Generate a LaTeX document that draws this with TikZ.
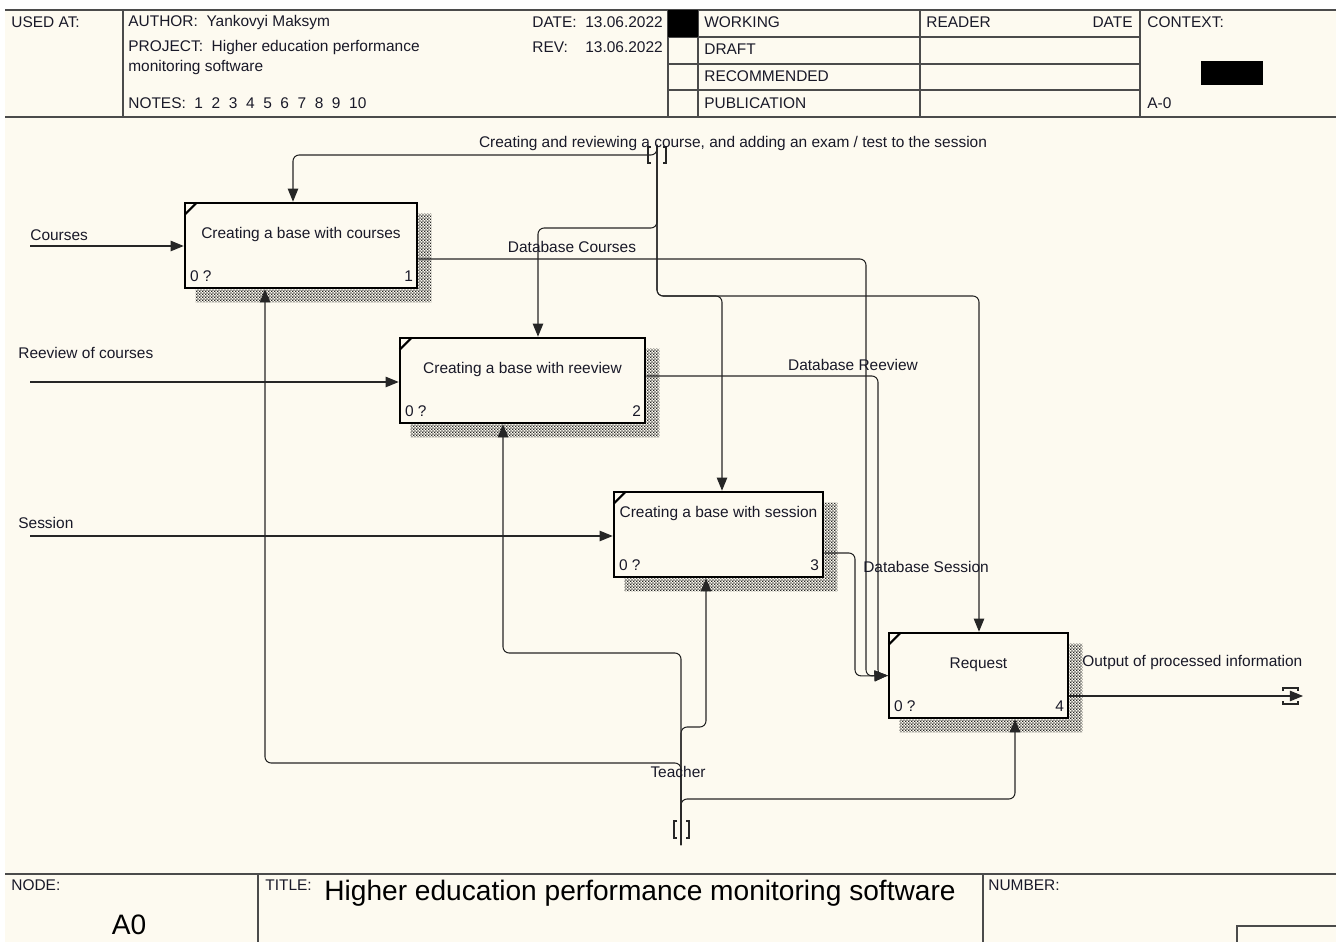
\documentclass[tikz,border=0pt]{standalone}
\usepackage{fontspec}
\setmainfont{Liberation Sans}
\usetikzlibrary{arrows.meta,calc,patterns.meta,positioning}
\definecolor{paper}{RGB}{253,250,240}
\definecolor{ink}{RGB}{25,25,40}
\definecolor{rulec}{RGB}{75,75,75}

\tikzdeclarepattern{
  name=idefshade,
  type=uncolored,
  bottom left={(0pt,0pt)},
  top right={(1.6pt,1.6pt)},
  tile size={(1.6pt,1.6pt)},
  code={
    \fill (0pt,0pt) rectangle (0.8pt,0.8pt);
    \fill (0.8pt,0.8pt) rectangle (1.6pt,1.6pt);
  }
}

\begin{document}
\begin{tikzpicture}[x=0.02cm, y=-0.02cm,
    fnbox/.style={rectangle, draw=black, line width=1.5pt, fill=paper, minimum height=1.7cm, inner sep=0pt},
    flow/.style={draw=black!85, line width=0.6pt, rounded corners=3.5pt},
    arr/.style={-{Triangle[length=7.5pt,width=6pt]}},
    lbl/.style={font=\fontsize{8.8}{10}\selectfont, text=ink, inner sep=0pt, yshift=-0.8pt},
    big/.style={font=\fontsize{16}{18}\selectfont, text=black, inner sep=0pt},
    hdr/.style={draw=rulec, line width=0.9pt},
    shade/.style={pattern=idefshade, pattern color=black!85},
    tunnel/.style={draw=black!85, line width=0.7pt}
]
\useasboundingbox (0,0) rectangle (1336,942);
\fill[white] (0,0) rectangle (1336,942);
\fill[paper] (5,10) rectangle (1336,942);

% header
\draw[hdr] (5,10) -- (1336,10);
\draw[hdr] (5,117) -- (1336,117);
\draw[hdr] (123,10) -- (123,117);
\draw[hdr] (668,10) -- (668,117);
\draw[hdr] (698,10) -- (698,117);
\draw[hdr] (920,10) -- (920,117);
\draw[hdr] (1140,10) -- (1140,117);
\foreach \y in {37,64,90} \draw[hdr] (668,\y) -- (1140,\y);
\fill[black] (668,10) rectangle (698,37);
\fill[black] (1201,61) rectangle (1263,85);

\node[lbl, anchor=west] (usedat) at (11,21) {USED AT:};
\node[lbl, anchor=west] (author) at (128,21) {AUTHOR:\ \ Yankovyi Maksym};
\node[lbl, anchor=west] (project) at (128,46) {PROJECT:\ \ Higher education performance};
\node[lbl, anchor=west] (project2) at (128,66) {monitoring software};
\node[lbl, anchor=west] (notes) at (128,102) {NOTES:\ \ 1\ \ 2\ \ 3\ \ 4\ \ 5\ \ 6\ \ 7\ \ 8\ \ 9\ \ 10};
\node[lbl, anchor=west] (date) at (532,21) {DATE:};
\node[lbl, anchor=west] (datev) at (585,21) {13.06.2022};
\node[lbl, anchor=west] (rev) at (532,46) {REV:};
\node[lbl, anchor=west] (revv) at (585,46) {13.06.2022};
\node[lbl, anchor=west] (working) at (704,21) {WORKING};
\node[lbl, anchor=west] (draft) at (704,48) {DRAFT};
\node[lbl, anchor=west] (recommended) at (704,75) {RECOMMENDED};
\node[lbl, anchor=west] (publication) at (704,102) {PUBLICATION};
\node[lbl, anchor=west] (reader) at (926,21) {READER};
\node[lbl, anchor=east] (readerdate) at (1133,21) {DATE};
\node[lbl, anchor=west] (context) at (1147,21) {CONTEXT:};
\node[lbl, anchor=west] (ctxname) at (1147,102) {A-0};

% footer
\draw[hdr] (5,874) -- (1336,874);
\draw[hdr] (258,874) -- (258,942);
\draw[hdr] (983,874) -- (983,942);
\draw[hdr] (1237,942) -- (1237,926) -- (1336,926);
\node[lbl, anchor=west] (nodelbl) at (11,884) {NODE:};
\node[big] (nodeid) at (129,925) {A0};
\node[lbl, anchor=west] (titlelbl) at (265,884) {TITLE:};
\node[big, anchor=west] (title) at (324,893) {Higher education performance monitoring software};
\node[lbl, anchor=west] (numberlbl) at (988,884) {NUMBER:};

% activities
\node[fnbox, minimum width=4.64cm] (b1) at (301,245.5) {};
\node[fnbox, minimum width=4.9cm] (b2) at (522.5,380.5) {};
\node[fnbox, minimum width=4.18cm] (b3) at (718.5,534.5) {};
\node[fnbox, minimum width=3.58cm] (b4) at (978.5,675.5) {};

\foreach \b/\n in {b1/1,b2/2,b3/3,b4/4} {
  \fill[shade] ($(\b.north east)+(0,12)$) -- ($(\b.north east)+(13,12)$) -- ($(\b.south east)+(13,13)$)
    -- ($(\b.south west)+(12,13)$) -- ($(\b.south west)+(12,0)$) -- (\b.south east) -- cycle;
  \draw[line width=1.2pt] ($(\b.north west)+(1,13)$) -- ($(\b.north west)+(13,1)$);
  \node[lbl, anchor=south west] at ($(\b.south west)+(6,-9)$) {0 ?};
  \node[lbl, anchor=south east] at ($(\b.south east)+(-5,-9)$) {\n};
}

\node[lbl] (t1) at ($(b1)+(0,-12)$) {Creating a base with courses};
\node[lbl] (t2) at ($(b2)+(0,-12)$) {Creating a base with reeview};
\node[lbl] (t3) at ($(b3)+(0,-22)$) {Creating a base with session};
\node[lbl] (t4) at ($(b4)+(0,-12)$) {Request};

% inputs
\coordinate (incourses) at (30,246);
\coordinate (inreview) at (30,382);
\coordinate (insession) at (30,536);
\draw[flow, arr] (incourses) -- (b1.west |- incourses);
\draw[flow, arr] (inreview) -- (b2.west |- inreview);
\draw[flow, arr] (insession) -- (b3.west |- insession);
\node[lbl, anchor=west] (lcourses) at (30,234) {Courses};
\node[lbl, anchor=west] (lreview) at (18,352) {Reeview of courses};
\node[lbl, anchor=west] (lsession) at (18,522) {Session};

% control
\coordinate (ctrlin) at (657,145);
\draw[flow, arr] (ctrlin) -- (657,155) -- (293,155) -- (293,0 |- b1.north);
\draw[flow, arr] (ctrlin) -- (657,228) -- (538,228) -- (538,0 |- b2.north);
\draw[flow, arr] (ctrlin) -- (657,296) -- (722,296) -- (722,0 |- b3.north);
\draw[flow, arr] (ctrlin) -- (657,296) -- (979,296) -- (979,0 |- b4.north);
\draw[tunnel] (651,147) -- (648,147) -- (648,163) -- (651,163);
\draw[tunnel] (663,147) -- (666,147) -- (666,163) -- (663,163);
\node[lbl] (lctrl) at (733,142) {Creating and reviewing a course, and adding an exam / test to the session};

% outputs to request
\draw[flow, arr] (b1.east |- 0,259) -- (866,259) -- (866,676) -- (b4.west);
\draw[flow, arr] (b2.east |- 0,376) -- (878,376) -- (878,676) -- (b4.west);
\draw[flow, arr] (b3.east |- 0,553) -- (855,553) -- (855,676) -- (b4.west);
\node[lbl] (ldbcourses) at (572,246) {Database Courses};
\node[lbl] (ldbreview) at (853,364) {Database Reeview};
\node[lbl] (ldbsession) at (926,566) {Database Session};

% final output
\coordinate (outend) at (1303,696);
\draw[flow, arr] (b4.east |- outend) -- (outend);
\draw[tunnel] (1283,691) -- (1283,688) -- (1298,688) -- (1298,691);
\draw[tunnel] (1283,701) -- (1283,704) -- (1298,704) -- (1298,701);
\node[lbl, anchor=west] (lout) at (1082,661) {Output of processed information};

% mechanism
\coordinate (mechin) at (681,845);
\draw[flow, arr] (mechin) -- (681,653) -- (503,653) -- (503,0 |- b2.south);
\draw[flow, arr] (mechin) -- (681,727) -- (706,727) -- (706,0 |- b3.south);
\draw[flow, arr] (mechin) -- (681,763) -- (265,763) -- (265,0 |- b1.south);
\draw[flow, arr] (mechin) -- (681,799) -- (1015,799) -- (1015,0 |- b4.south);
\draw[tunnel] (677,821) -- (674,821) -- (674,838) -- (677,838);
\draw[tunnel] (686,821) -- (689,821) -- (689,838) -- (686,838);
\node[lbl] (lteacher) at (678,771) {Teacher};

\end{tikzpicture}
\end{document}
